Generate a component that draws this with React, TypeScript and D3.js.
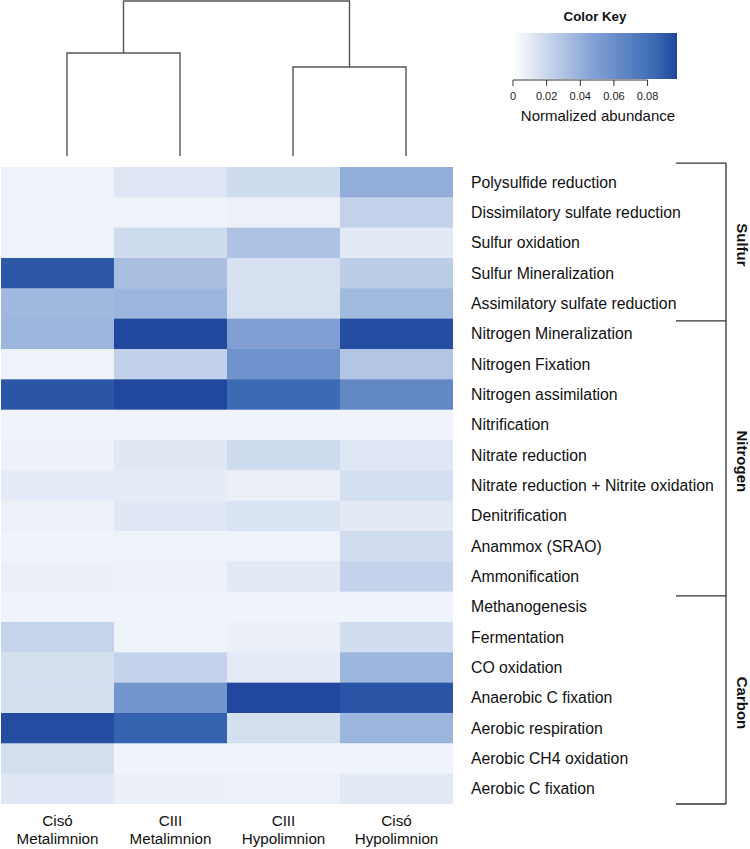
import React from "react";
import * as d3 from "d3";

const rowNames = [
  "Polysulfide reduction",
  "Dissimilatory sulfate reduction",
  "Sulfur oxidation",
  "Sulfur Mineralization",
  "Assimilatory sulfate reduction",
  "Nitrogen Mineralization",
  "Nitrogen Fixation",
  "Nitrogen assimilation",
  "Nitrification",
  "Nitrate reduction",
  "Nitrate reduction + Nitrite oxidation",
  "Denitrification",
  "Anammox (SRAO)",
  "Ammonification",
  "Methanogenesis",
  "Fermentation",
  "CO oxidation",
  "Anaerobic C fixation",
  "Aerobic respiration",
  "Aerobic CH4 oxidation",
  "Aerobic C fixation",
];

const colLine1 = ["Cisó", "CIII", "CIII", "Cisó"];
const colLine2 = ["Metalimnion", "Metalimnion", "Hypolimnion", "Hypolimnion"];

const cisoMeta = [0.0065, 0.0065, 0.0065, 0.091, 0.0356, 0.038, 0.0065, 0.092, 0.0057, 0.0069, 0.0103, 0.0073, 0.0061, 0.0077, 0.0057, 0.0222, 0.0165, 0.0165, 0.095, 0.0165, 0.0115];
const ciiiMeta = [0.0122, 0.0065, 0.0184, 0.033, 0.0379, 0.0966, 0.0234, 0.0966, 0.0057, 0.0119, 0.0096, 0.0115, 0.0065, 0.0069, 0.0057, 0.0061, 0.0226, 0.0558, 0.0873, 0.0057, 0.0077];
const ciiiHypo = [0.0184, 0.0073, 0.031, 0.0157, 0.0157, 0.049, 0.0573, 0.0845, 0.0057, 0.0184, 0.0077, 0.0142, 0.0065, 0.0111, 0.0057, 0.008, 0.0103, 0.0964, 0.0165, 0.0057, 0.0073];
const cisoHypo = [0.0417, 0.023, 0.0107, 0.0256, 0.0352, 0.0947, 0.0295, 0.064, 0.0057, 0.0122, 0.0168, 0.0107, 0.0176, 0.0226, 0.0061, 0.0172, 0.0375, 0.0924, 0.038, 0.0061, 0.0111];
const columnSeries = [cisoMeta, ciiiMeta, ciiiHypo, cisoHypo];

const keyTicks = [0, 0.02, 0.04, 0.06, 0.08];
const keyMax = 0.0975;

// dendrogram merge heights (relative)
const leftMergeHeight = 0.665;
const rightMergeHeight = 0.574;
const rootHeight = 1;

// groups: name, start row, end row (fractional bracket positions)
const groupNames = ["Sulfur", "Nitrogen", "Carbon"];
const groupStarts = [-0.13, 5.07, 14.14];
const groupEnds = [5.07, 14.14, 21];

const FONT = "'Liberation Sans', Arial, Helvetica, sans-serif";

export default function App() {
  const W = 750;
  const H = 849;
  const hmLeft = 1;
  const hmRight = 453;
  const hmTop = 167;
  const hmBottom = 804;

  const x = d3.scaleBand<number>().domain(d3.range(4)).range([hmLeft, hmRight]).padding(0);
  const y = d3.scaleBand<number>().domain(d3.range(rowNames.length)).range([hmTop, hmBottom]).padding(0);
  const rowY = d3.scaleLinear().domain([0, rowNames.length]).range([hmTop, hmBottom]);
  const color = d3
    .scaleLinear<string>()
    .domain([0, 0.049, 0.085, keyMax])
    .range(["#ffffff", "#7f9fd3", "#3a6ab3", "#1f449d"])
    .interpolate(d3.interpolateRgb)
    .clamp(true);

  const bw = x.bandwidth();
  const bh = y.bandwidth();

  // dendrogram
  const yD = d3.scaleLinear().domain([0, 1]).range([156, 1]);
  const leafX = (i: number) => (x(i) as number) + bw / 2 + 9.5;
  const yL = yD(leftMergeHeight);
  const yR = yD(rightMergeHeight);
  const yRoot = yD(rootHeight);
  const midL = (leafX(0) + leafX(1)) / 2;
  const midR = (leafX(2) + leafX(3)) / 2;
  const dendroPaths = [
    `M${leafX(0)},${yD(0)}V${yL}H${leafX(1)}V${yD(0)}`,
    `M${leafX(2)},${yD(0)}V${yR}H${leafX(3)}V${yD(0)}`,
    `M${midL},${yL}V${yRoot}H${midR}V${yR}`,
  ];

  // color key
  const kx = d3.scaleLinear().domain([0, keyMax]).range([513, 677]);
  const keyTop = 33;
  const keyBottom = 79;
  const gradStops = d3.range(0, 1.0001, 0.025);

  // bracket
  const brX0 = 676;
  const brX1 = 726;

  return (
    <svg
      width={W}
      height={H}
      viewBox={`0 0 ${W} ${H}`}
      style={{ position: "absolute", left: 0, top: 0, background: "#fff" }}
      fontFamily={FONT}
    >
      <defs>
        <linearGradient id="keyGrad" x1="0" x2="1" y1="0" y2="0">
          {gradStops.map((t, i) => (
            <stop key={i} offset={t} stopColor={color(t * keyMax)} />
          ))}
        </linearGradient>
      </defs>
      <rect x={0} y={0} width={W} height={H} fill="#fff" />

      {/* dendrogram */}
      {dendroPaths.map((d, i) => (
        <path key={i} d={d} fill="none" stroke="#555" strokeWidth={1.4} />
      ))}

      {/* heatmap */}
      {columnSeries.map((series, ci) =>
        series.map((v, ri) => (
          <rect
            key={`${ci}-${ri}`}
            x={x(ci) as number}
            y={y(ri) as number}
            width={bw + (ci < 3 ? 0.5 : 0)}
            height={bh + (ri < rowNames.length - 1 ? 0.5 : 0)}
            fill={color(v)}
          />
        ))
      )}

      {/* row labels */}
      {rowNames.map((name, ri) => (
        <text key={name} x={471} y={(y(ri) as number) + bh / 2} dy="0.35em" fontSize={15.8} fill="#111">
          {name}
        </text>
      ))}

      {/* column labels */}
      {colLine1.map((l, ci) => (
        <g key={ci}>
          <text x={(x(ci) as number) + bw / 2} y={826} textAnchor="middle" fontSize={15.2} fill="#111">
            {l}
          </text>
          <text x={(x(ci) as number) + bw / 2} y={844} textAnchor="middle" fontSize={15.2} fill="#111">
            {colLine2[ci]}
          </text>
        </g>
      ))}

      {/* group brackets */}
      <line x1={brX1} x2={brX1} y1={rowY(groupStarts[0])} y2={rowY(groupEnds[groupEnds.length - 1])} stroke="#333" strokeWidth={1.3} />
      {groupNames.map((g, gi) => {
        const y0 = rowY(groupStarts[gi]);
        const y1 = rowY(groupEnds[gi]);
        const cy = (y0 + y1) / 2 + 3;
        return (
          <g key={g}>
            <line x1={brX0} x2={brX1} y1={y0} y2={y0} stroke="#333" strokeWidth={1.3} />
            {gi === groupNames.length - 1 && (
              <line x1={brX0} x2={brX1} y1={y1} y2={y1} stroke="#333" strokeWidth={1.3} />
            )}
            <text
              transform={`translate(737,${cy}) rotate(90)`}
              textAnchor="middle"
              fontSize={15}
              fontWeight="bold"
              fill="#111"
            >
              {g}
            </text>
          </g>
        );
      })}

      {/* color key */}
      <text x={595} y={21} textAnchor="middle" fontSize={13.3} fontWeight="bold" fill="#111">
        Color Key
      </text>
      <rect x={kx(0)} y={keyTop} width={kx(keyMax) - kx(0)} height={keyBottom - keyTop} fill="url(#keyGrad)" />
      <line x1={kx(0)} x2={kx(keyTicks[keyTicks.length - 1])} y1={80} y2={80} stroke="#333" strokeWidth={1} />
      {keyTicks.map((t) => (
        <g key={t}>
          <line x1={kx(t)} x2={kx(t)} y1={80} y2={86} stroke="#333" strokeWidth={1} />
          <text x={kx(t)} y={100} textAnchor="middle" fontSize={11} fill="#222">
            {t === 0 ? "0" : t.toFixed(2)}
          </text>
        </g>
      ))}
      <text x={598} y={121} textAnchor="middle" fontSize={15} fill="#111">
        Normalized abundance
      </text>
    </svg>
  );
}
